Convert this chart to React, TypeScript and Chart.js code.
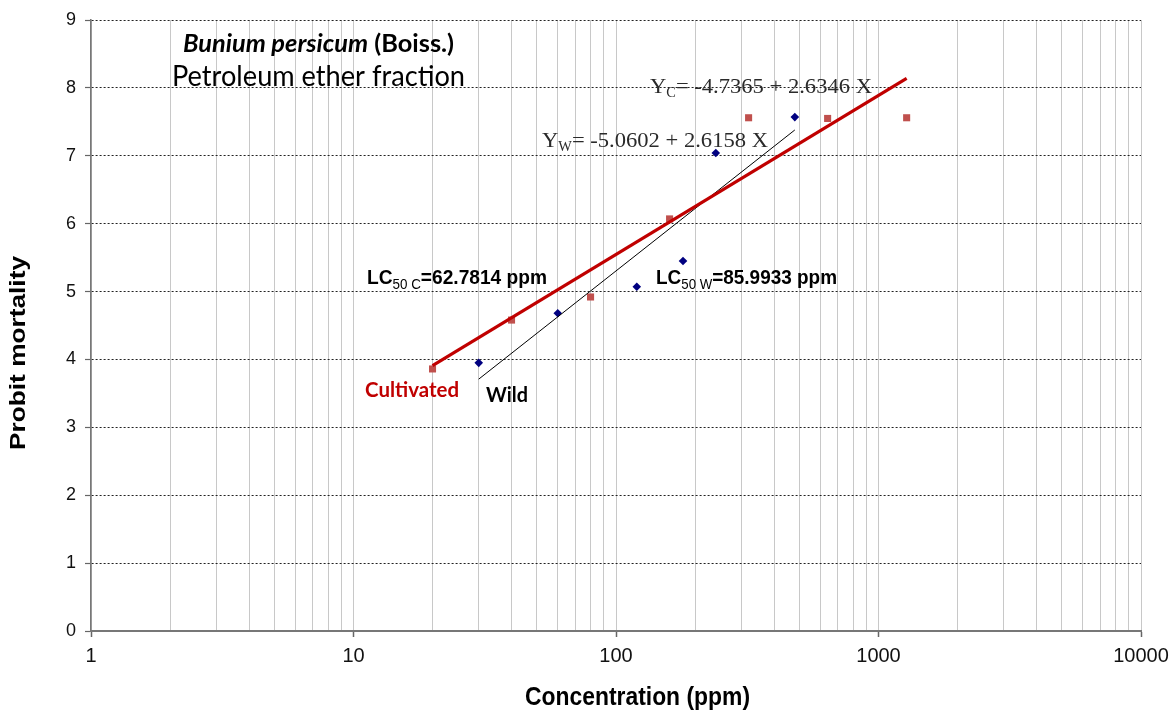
import React, { useEffect, useRef } from "react";
import { Chart, registerables } from "chart.js";

Chart.register(...registerables);

// ---- data ----
const cultivatedConc = [20, 40, 80, 160, 320, 640, 1280];
const cultivatedProbit = [3.86, 4.58, 4.92, 6.07, 7.56, 7.55, 7.56];
const wildConc = [30, 60, 120, 180, 240, 480];
const wildProbit = [3.95, 4.68, 5.07, 5.45, 7.04, 7.57];
const cultivatedFitConc = [20, 1280];
const cultivatedFitProbit = [3.91, 8.14];
const wildFitConc = [30, 480];
const wildFitProbit = [3.71, 7.38];
const xTickValues = [
  1, 2, 3, 4, 5, 6, 7, 8, 9,
  10, 20, 30, 40, 50, 60, 70, 80, 90,
  100, 200, 300, 400, 500, 600, 700, 800, 900,
  1000, 2000, 3000, 4000, 5000, 6000, 7000, 8000, 9000,
  10000,
];
const xLabelValues = [1, 10, 100, 1000, 10000];
const yMin = 0;
const yMax = 9;

type Part = { text: string; font: string; dy?: number };
type Annot = { parts: Part[]; left: number; right: number; baseline: number; color: string };

const SERIF = "'Liberation Serif', 'Times New Roman', serif";
const SANS = "'Liberation Sans', Arial, sans-serif";
const CAL = "Lato, 'Open Sans', sans-serif";

const annotations: Annot[] = [
  {
    parts: [
      { text: "Bunium persicum", font: `italic bold 24px ${CAL}` },
      { text: " (Boiss.)", font: `bold 24px ${CAL}` },
    ],
    left: 183, right: 454, baseline: 52, color: "#000",
  },
  {
    parts: [{ text: "Petroleum ether fraction", font: `28px ${CAL}` }],
    left: 172, right: 465, baseline: 86, color: "#000",
  },
  {
    parts: [
      { text: "Y", font: `22px ${SERIF}` },
      { text: "C", font: `14px ${SERIF}`, dy: 4 },
      { text: "= -4.7365 + 2.6346 X", font: `22px ${SERIF}` },
    ],
    left: 650, right: 872, baseline: 93, color: "#2a2a2a",
  },
  {
    parts: [
      { text: "Y", font: `22px ${SERIF}` },
      { text: "W", font: `14px ${SERIF}`, dy: 4 },
      { text: "= -5.0602 + 2.6158 X", font: `22px ${SERIF}` },
    ],
    left: 542, right: 768, baseline: 147, color: "#2a2a2a",
  },
  {
    parts: [
      { text: "LC", font: `bold 20px ${SANS}` },
      { text: "50 C", font: `14px ${SANS}`, dy: 5 },
      { text: "=62.7814 ppm", font: `bold 20px ${SANS}` },
    ],
    left: 367, right: 547, baseline: 284, color: "#000",
  },
  {
    parts: [
      { text: "LC", font: `bold 20px ${SANS}` },
      { text: "50 W", font: `14px ${SANS}`, dy: 5 },
      { text: "=85.9933 ppm", font: `bold 20px ${SANS}` },
    ],
    left: 656, right: 837, baseline: 284, color: "#000",
  },
  {
    parts: [{ text: "Cultivated", font: `bold 21px ${CAL}` }],
    left: 365, right: 459, baseline: 397, color: "#C00000",
  },
  {
    parts: [{ text: "Wild", font: `bold 21px ${CAL}` }],
    left: 486, right: 528, baseline: 402, color: "#000",
  },
  {
    parts: [{ text: "Concentration (ppm)", font: `bold 25px ${SANS}` }],
    left: 525, right: 750, baseline: 705, color: "#000",
  },
];

const yTitle = { text: "Probit mortality", font: `bold 22px ${SANS}`, baselineX: 25, top: 256, bottom: 450 };

function drawParts(ctx: CanvasRenderingContext2D, parts: Part[], width: number, color: string) {
  let total = 0;
  const widths = parts.map((p) => {
    ctx.font = p.font;
    const w = ctx.measureText(p.text).width;
    total += w;
    return w;
  });
  const sx = width / total;
  ctx.scale(sx, 1);
  ctx.fillStyle = color;
  ctx.textAlign = "left";
  ctx.textBaseline = "alphabetic";
  let x = 0;
  parts.forEach((p, i) => {
    ctx.font = p.font;
    ctx.fillText(p.text, x, p.dy || 0);
    x += widths[i];
  });
}

const textPlugin = {
  id: "textAnnotations",
  afterDatasetsDraw(chart: any) {
    const ctx: CanvasRenderingContext2D = chart.ctx;
    annotations.forEach((a) => {
      ctx.save();
      ctx.translate(a.left, a.baseline);
      drawParts(ctx, a.parts, a.right - a.left, a.color);
      ctx.restore();
    });
    ctx.save();
    ctx.translate(yTitle.baselineX, yTitle.bottom);
    ctx.rotate(-Math.PI / 2);
    drawParts(ctx, [{ text: yTitle.text, font: yTitle.font }], yTitle.bottom - yTitle.top, "#000");
    ctx.restore();
  },
};

export default function App() {
  const canvasRef = useRef<HTMLCanvasElement | null>(null);

  useEffect(() => {
    if (!canvasRef.current) return;
    const toPts = (xs: number[], ys: number[]) => xs.map((x, i) => ({ x, y: ys[i] }));
    const chart = new Chart(canvasRef.current, {
      type: "scatter",
      data: {
        datasets: [
          {
            type: "line",
            label: "Cultivated fit",
            data: toPts(cultivatedFitConc, cultivatedFitProbit),
            borderColor: "#C00000",
            borderWidth: 3.2,
            pointRadius: 0,
            fill: false,
          },
          {
            type: "line",
            label: "Wild fit",
            data: toPts(wildFitConc, wildFitProbit),
            borderColor: "#000",
            borderWidth: 1,
            pointRadius: 0,
            fill: false,
          },
          {
            label: "Cultivated",
            data: toPts(cultivatedConc, cultivatedProbit),
            pointStyle: "rect",
            pointRadius: 5,
            backgroundColor: "#C0504D",
            borderColor: "#C0504D",
            borderWidth: 0,
          },
          {
            label: "Wild",
            data: toPts(wildConc, wildProbit),
            pointStyle: "rectRot",
            pointRadius: 4.3,
            backgroundColor: "#000080",
            borderColor: "#000080",
            borderWidth: 0,
          },
        ],
      } as any,
      options: {
        animation: false,
        responsive: true,
        maintainAspectRatio: false,
        layout: { padding: { top: 20, right: 28, left: 0, bottom: 0 } },
        plugins: { legend: { display: false }, tooltip: { enabled: false }, title: { display: false } },
        scales: {
          x: {
            type: "logarithmic",
            min: 1,
            max: 10000,
            afterBuildTicks: (scale: any) => {
              scale.ticks = xTickValues.map((v) => ({ value: v, major: xLabelValues.includes(v) }));
            },
            afterFit: (scale: any) => {
              scale.height = 79;
              scale.paddingRight = 0;
              scale.paddingLeft = 0;
            },
            ticks: {
              autoSkip: false,
              maxRotation: 0,
              minRotation: 0,
              padding: 7,
              color: "#111",
              font: { family: SANS, size: 20 },
              callback: (v: any) => (xLabelValues.includes(Number(v)) ? String(v) : ""),
            },
            grid: {
              color: "#C8C8C8",
              lineWidth: 1,
              tickLength: 6,
              tickColor: (c: any) => (c.tick && xLabelValues.includes(c.tick.value) ? "#666" : "rgba(0,0,0,0)"),
              tickWidth: 1.5,
            },
            border: { display: true, color: "#777", width: 2 },
          },
          y: {
            type: "linear",
            min: yMin,
            max: yMax,
            afterFit: (scale: any) => {
              scale.width = 91;
            },
            ticks: {
              stepSize: 1,
              padding: 9,
              color: "#111",
              font: { family: SANS, size: 18 },
            },
            grid: {
              color: "#222",
              lineWidth: 1,
              tickLength: 6,
              tickColor: "#666",
              tickWidth: 1.2,
              tickBorderDash: [],
            },
            border: { display: true, color: "#777", width: 1.6, dash: [2, 2] },
          },
        },
      } as any,
      plugins: [textPlugin],
    });
    return () => chart.destroy();
  }, []);

  return (
    <div style={{ position: "absolute", left: 0, top: 0, width: 1169, height: 710, background: "#fff" }}>
      <canvas ref={canvasRef} />
    </div>
  );
}
